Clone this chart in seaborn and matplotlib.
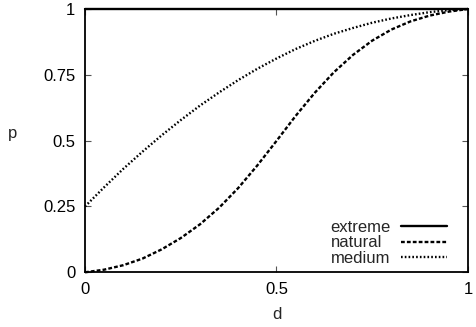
import matplotlib
matplotlib.use("Agg")
import matplotlib.pyplot as plt
import seaborn as sns
import pandas as pd

# Data
d_values = [0.0, 0.05, 0.1, 0.15, 0.2, 0.25, 0.3, 0.35, 0.4, 0.45, 0.5,
            0.55, 0.6, 0.65, 0.7, 0.75, 0.8, 0.85, 0.9, 0.95, 1.0]
extreme = [1.0] * 21
natural = [0.0, 0.01, 0.027, 0.052, 0.087, 0.13, 0.182, 0.245, 0.32, 0.406, 0.499,
           0.594, 0.682, 0.76, 0.826, 0.88, 0.922, 0.953, 0.975, 0.99, 1.0]
medium = [0.25, 0.323, 0.393, 0.458, 0.52, 0.578, 0.633, 0.683, 0.73, 0.773, 0.812,
          0.848, 0.879, 0.906, 0.928, 0.948, 0.964, 0.977, 0.988, 0.996, 1.0]
series_names = ["extreme", "natural", "medium"]
x_ticks = [0, 0.5, 1]
x_tick_labels = ["0", "0.5", "1"]
y_ticks = [0, 0.25, 0.5, 0.75, 1]
y_tick_labels = ["0", "0.25", "0.5", "0.75", "1"]

df = pd.DataFrame({
    "d": d_values * 3,
    "p": extreme + natural + medium,
    "series": [s for s in series_names for _ in d_values],
})

sns.set_style("ticks")
plt.rcParams["font.family"] = ["Liberation Sans", "DejaVu Sans"]
plt.rcParams["font.size"] = 12

fig = plt.figure(figsize=(4.77, 3.27), dpi=100)
ax = fig.add_axes([85 / 477, (327 - 272.3) / 327, 383 / 477, 263.3 / 327])

styles = {
    "extreme": "-",
    "natural": (0, (1.6, 0.9)),
    "medium": (0, (0.7, 0.9)),
}
for name in series_names:
    sub = df[df["series"] == name]
    sns.lineplot(data=sub, x="d", y="p", ax=ax, color="black", lw=1.7,
                 linestyle=styles[name], label=name, clip_on=False,
                 zorder=3, estimator=None, sort=False)

ax.set_xlim(0, 1)
ax.set_ylim(0, 1)
ax.set_xticks(x_ticks)
ax.set_xticklabels(x_tick_labels)
ax.set_yticks(y_ticks)
ax.set_yticklabels(y_tick_labels)
ax.tick_params(direction="in", length=4, width=0.8, color="#555555",
               top=True, right=True, labelsize=12, pad=7, labelcolor="black")
for sp in ax.spines.values():
    sp.set_visible(True)
    sp.set_linewidth(1.3)
    sp.set_color("black")

ax.set_xlabel("d", fontsize=12, labelpad=7)
ax.set_ylabel("p", fontsize=12, rotation=0, labelpad=0)
ax.yaxis.set_label_coords(-0.19, 0.5)

leg = ax.legend(loc="lower right", bbox_to_anchor=(0.944, 0.025), frameon=False,
                markerfirst=False, handlelength=2.75, handletextpad=0.6,
                labelspacing=0.02, borderpad=0, borderaxespad=0, fontsize=12)

# Left-align legend labels while keeping the line samples aligned on the right
try:
    fig.canvas.draw()
    renderer = fig.canvas.get_renderer()
    cols = leg._legend_handle_box.get_children()
    for col in cols:
        rows = col.get_children()
        maxw = max(r.get_bbox(renderer).width for r in rows)
        for r in rows:
            r.mode = "expand"
            r.width = maxw
except Exception:
    pass

fig.savefig("out.png", dpi=100)
